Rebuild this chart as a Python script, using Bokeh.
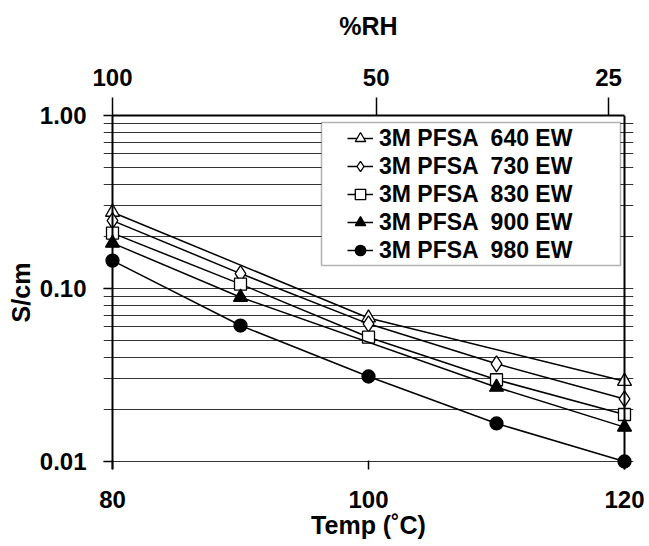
from bokeh.plotting import figure
from bokeh.models import (Range1d, LinearAxis, FixedTicker, PrintfTickFormatter,
                          Legend, LegendItem, BoxAnnotation, Span)
from bokeh.embed import file_html
from bokeh.resources import INLINE

# Conductivity (S/cm) versus cell temperature for each equivalent weight
temps_640 = [80, 100, 120]
cond_640 = [0.276, 0.0676, 0.0291]

temps_730 = [80, 90, 100, 110, 120]
cond_730 = [0.247, 0.122, 0.0625, 0.0367, 0.023]

temps_830 = [80, 90, 100, 110, 120]
cond_830 = [0.209, 0.106, 0.0523, 0.0297, 0.0187]

temps_900 = [80, 90, 110, 120]
cond_900 = [0.183, 0.089, 0.0269, 0.0158]

temps_980 = [80, 90, 100, 110, 120]
cond_980 = [0.145, 0.0611, 0.031, 0.0166, 0.010]

series_labels = ["3M PFSA  640 EW", "3M PFSA  730 EW", "3M PFSA  830 EW",
                 "3M PFSA  900 EW", "3M PFSA  980 EW"]

# Temperature axis ticks and the relative humidity reached at those temperatures
temp_ticks = [80, 100, 120]
rh_tick_temps = [80, 100.6, 118.75]
rh_tick_labels = ["100", "50", "25"]

cond_ticks = [0.01, 0.1, 1.0]
cond_minor = [0.02, 0.03, 0.04, 0.05, 0.06, 0.07, 0.08, 0.09,
              0.2, 0.3, 0.4, 0.5, 0.6, 0.7, 0.8, 0.9]

T_MIN, T_MAX = 80, 120
S_MIN, S_MAX = 0.01, 1.0

FONT = "Liberation Sans"

# The frame is a little wider/deeper than the axis box so that the markers
# sitting on the axis box edges are drawn whole.
pad_t = 0.703
p = figure(width=649, height=546, output_backend="svg", toolbar_location=None,
           x_range=Range1d(T_MIN - pad_t, T_MAX + pad_t),
           y_range=Range1d(S_MIN / 1.112, S_MAX),
           y_axis_type="log",
           min_border_left=103, min_border_right=16,
           min_border_top=115, min_border_bottom=77)
p.background_fill_color = "white"
p.border_fill_color = "white"
p.outline_line_color = None

# grid: horizontal lines at every decade and sub-decade step
p.xgrid.grid_line_color = None
p.ygrid.bounds = (T_MIN, T_MAX)
p.ygrid.grid_line_color = "#333333"
p.ygrid.grid_line_width = 1
p.ygrid.minor_grid_line_color = "#333333"
p.ygrid.minor_grid_line_width = 1

# left axis
yax = p.yaxis[0]
yax.ticker = FixedTicker(ticks=cond_ticks, minor_ticks=cond_minor)
yax.formatter = PrintfTickFormatter(format="%.2f")
yax.axis_label = "S/cm"
yax.axis_label_standoff = 2
yax.axis_line_color = None
yax.major_tick_out = 0
yax.major_tick_in = 9
yax.minor_tick_line_color = None
yax.major_label_standoff = 13

# bottom axis
xax = p.xaxis[0]
xax.ticker = FixedTicker(ticks=temp_ticks)
xax.axis_label = "Temp (˚C)"
xax.axis_label_standoff = 0
xax.axis_line_color = None
xax.major_tick_out = 0
xax.major_tick_in = 9
xax.minor_tick_line_color = None
xax.major_label_standoff = 21

# top axis: relative humidity
top = LinearAxis(ticker=FixedTicker(ticks=rh_tick_temps),
                 major_label_overrides={t: lab for t, lab in zip(rh_tick_temps, rh_tick_labels)},
                 axis_label="%RH", bounds=(T_MIN, T_MAX))
top.axis_line_width = 2
top.axis_line_color = "black"
top.major_tick_out = 18
top.major_tick_in = 0
top.minor_tick_line_color = None
top.major_label_standoff = 12
top.axis_label_standoff = 26
p.add_layout(top, "above")

for ax in (yax, xax, top):
    ax.major_label_text_font = FONT
    ax.major_label_text_font_style = "bold"
    ax.major_label_text_font_size = "24px"
    ax.major_label_text_color = "black"
    ax.axis_label_text_font = FONT
    ax.axis_label_text_font_style = "bold"
    ax.axis_label_text_font_size = "25px"
    ax.axis_label_text_color = "black"
    ax.major_tick_line_color = "black"
    ax.major_tick_line_width = 1.5

# vertical edges of the axis box
p.add_layout(Span(location=T_MIN, dimension="height", line_color="black", line_width=2))
p.add_layout(Span(location=T_MAX, dimension="height", line_color="black", line_width=2))

# legend panel background
p.add_layout(BoxAnnotation(left=321, right=620, top=122, bottom=265,
                           left_units="canvas", right_units="canvas",
                           top_units="canvas", bottom_units="canvas",
                           fill_color="white", fill_alpha=1.0,
                           line_color="black", line_width=1.5))

series = [
    (temps_640, cond_640, "triangle", "white", 14),
    (temps_730, cond_730, "diamond", "white", 16),
    (temps_830, cond_830, "square", "white", 12),
    (temps_900, cond_900, "triangle", "black", 14),
    (temps_980, cond_980, "circle", "black", 13),
]

items = []
for (t, c, marker, fill, size), label in zip(series, series_labels):
    ln = p.line(t, c, line_color="black", line_width=1.5)
    sc = p.scatter(t, c, marker=marker, size=size, fill_color=fill,
                   line_color="black", line_width=1.3)
    items.append(LegendItem(label=label, renderers=[ln, sc]))

legend = Legend(items=items, location=(238, 199), margin=0, padding=6, spacing=0,
                glyph_width=26, glyph_height=28, label_height=28, label_standoff=6,
                border_line_alpha=0, background_fill_alpha=0,
                label_text_font=FONT, label_text_font_style="bold",
                label_text_font_size="23px", label_text_color="black")
p.add_layout(legend)

open("out.html", "w").write(file_html(p, INLINE))
